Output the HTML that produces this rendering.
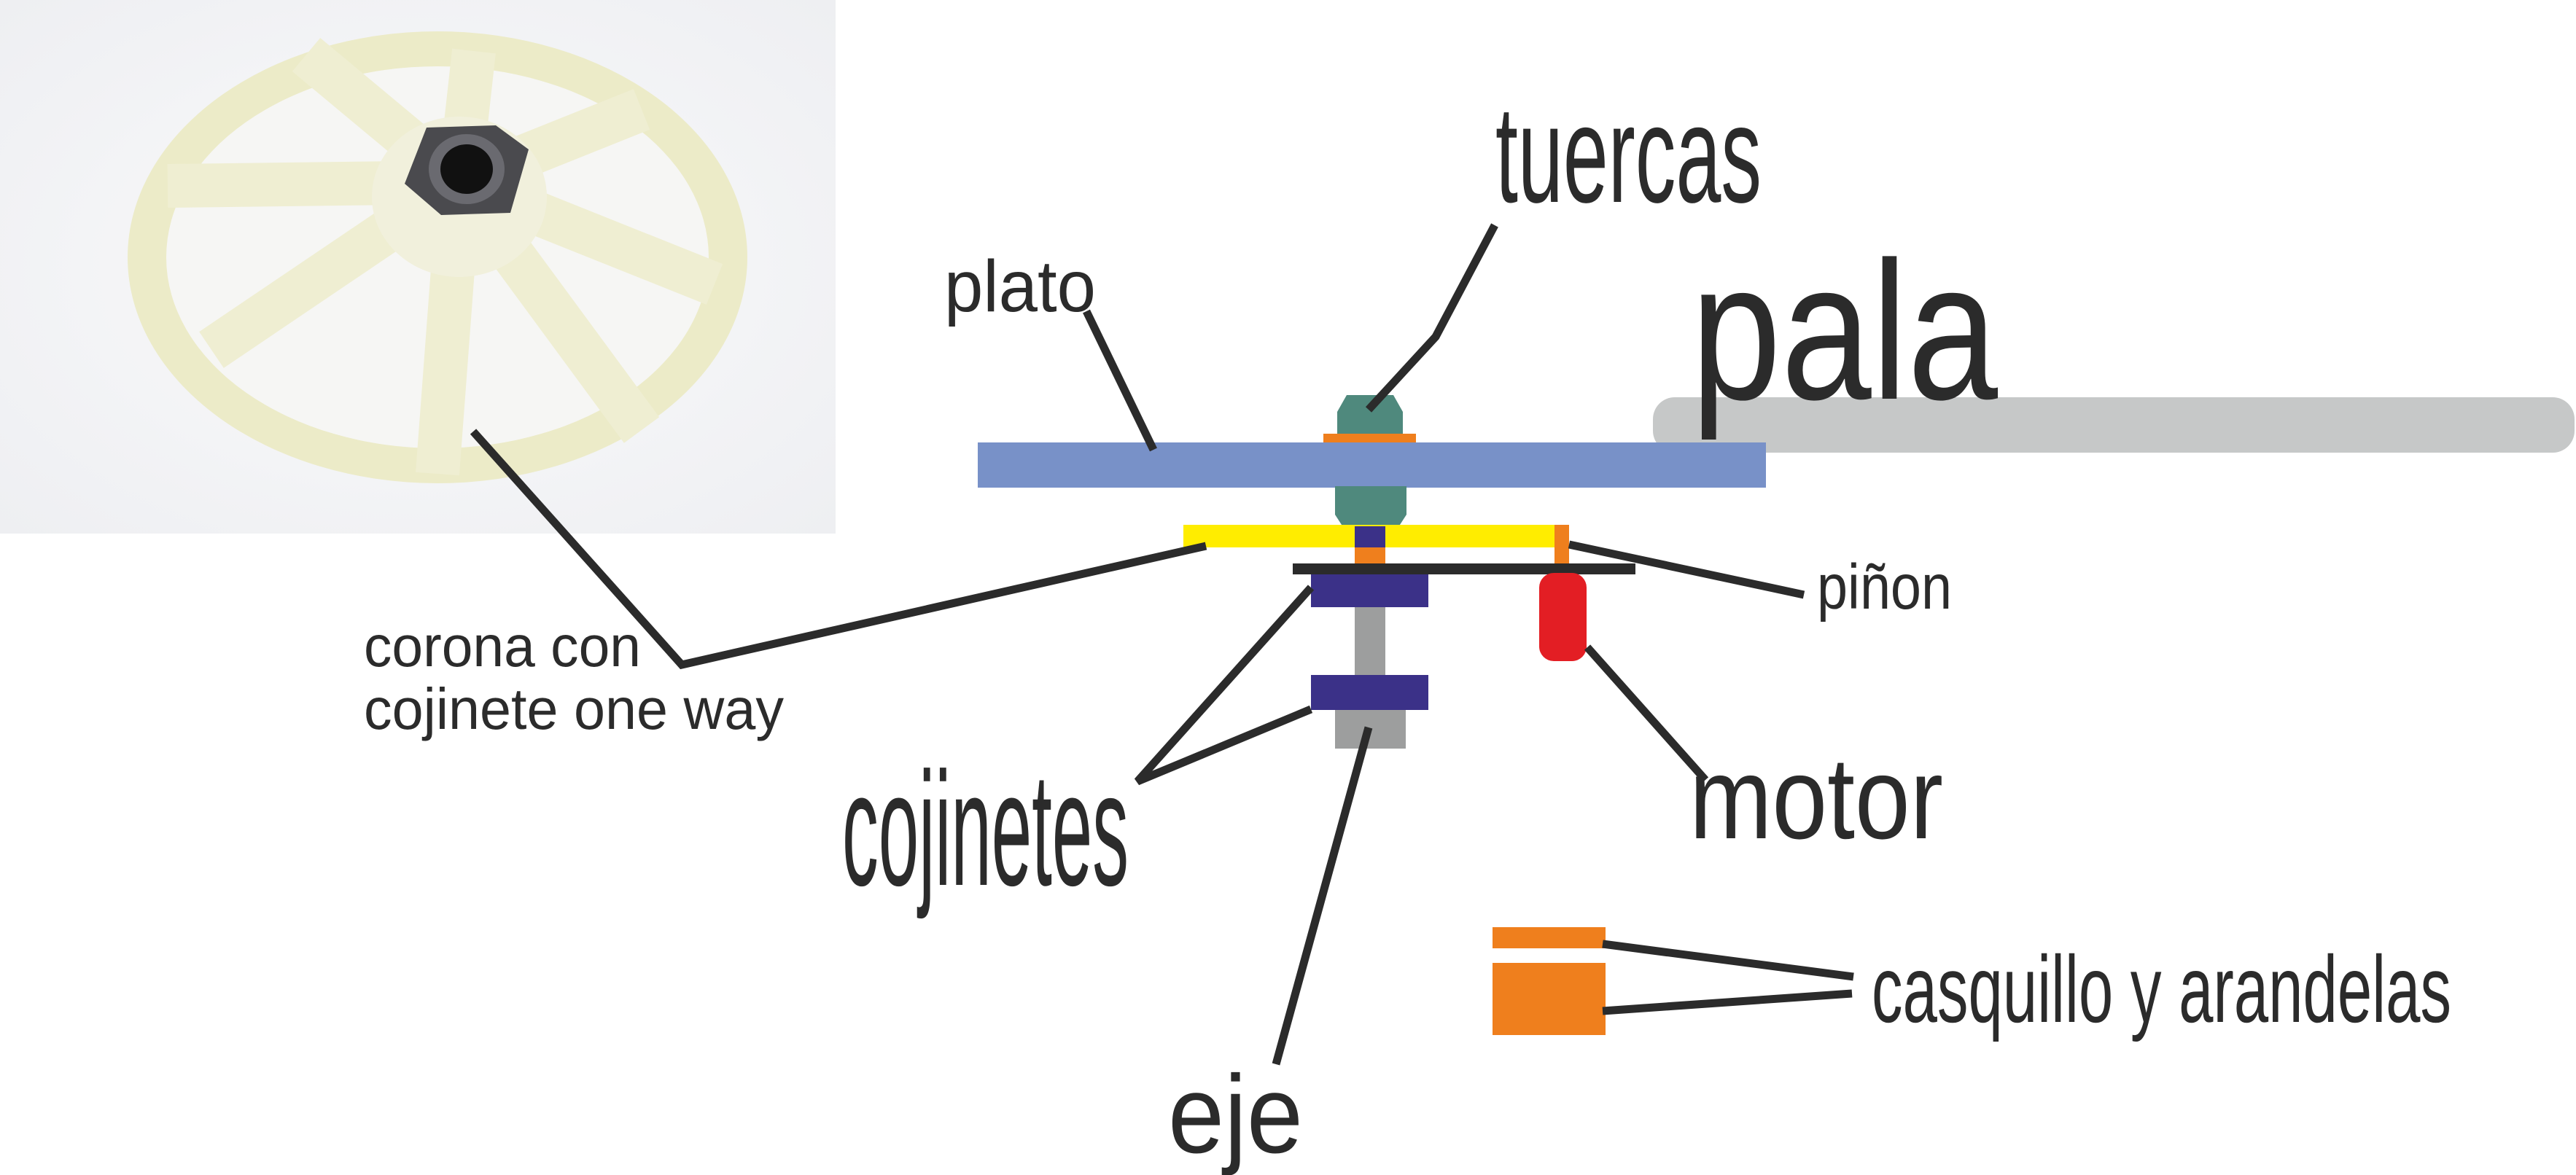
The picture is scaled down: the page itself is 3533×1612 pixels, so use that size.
<!DOCTYPE html>
<html><head><meta charset="utf-8"><style>
html,body{margin:0;padding:0;background:#fff}
svg{display:block}
text{font-family:"Liberation Sans",Arial,sans-serif;fill:#2b2b2b}
</style></head><body>
<svg width="3533" height="1612" viewBox="0 0 3533 1612" xmlns="http://www.w3.org/2000/svg">
<defs>
<radialGradient id="bg" cx="0.5" cy="0.5" r="0.7">
<stop offset="0" stop-color="#fafafb"/><stop offset="1" stop-color="#eeeff2"/>
</radialGradient>
</defs>
<!-- photo -->
<rect x="0" y="0" width="1146" height="732" fill="url(#bg)"/>
<ellipse cx="600" cy="353" rx="425" ry="310" fill="#ecebc8"/>
<ellipse cx="600" cy="353" rx="372" ry="262" fill="#f6f6f4"/>
<g stroke="#efeed2" stroke-width="60" stroke-linecap="butt">
<line x1="630" y1="250" x2="420" y2="75"/>
<line x1="630" y1="250" x2="650" y2="70"/>
<line x1="630" y1="250" x2="880" y2="150"/>
<line x1="630" y1="250" x2="980" y2="390"/>
<line x1="630" y1="250" x2="880" y2="590"/>
<line x1="630" y1="250" x2="600" y2="650"/>
<line x1="630" y1="250" x2="290" y2="480"/>
<line x1="630" y1="250" x2="230" y2="255"/>
</g>
<ellipse cx="630" cy="270" rx="120" ry="110" fill="#f1f0dc"/>
<polygon points="585,175 680,172 725,205 700,292 605,295 555,252" fill="#4a4a4e"/>
<ellipse cx="640" cy="232" rx="52" ry="48" fill="#6a6a70"/>
<ellipse cx="640" cy="232" rx="36" ry="34" fill="#111"/>
<!-- pala -->
<rect x="2267" y="545" width="1264" height="76" rx="30" fill="#c6c8c8"/>
<!-- plato -->
<rect x="1341" y="607" width="1081" height="62" fill="#7891c8"/>
<!-- nuts -->
<polygon points="1847,542 1911,542 1924,565 1924,595 1834,595 1834,565" fill="#4f897d"/>
<rect x="1815" y="595" width="127" height="12" fill="#ef7f1d"/>
<polygon points="1831,667 1929,667 1929,706 1918,723 1842,723 1831,706" fill="#4f897d"/>
<!-- yellow corona -->
<rect x="1623" y="720" width="511" height="31" fill="#ffed00"/>
<rect x="1858" y="722" width="42" height="29" fill="#3b3188"/>
<rect x="1858" y="751" width="42" height="23" fill="#ef7f1d"/>
<rect x="2132" y="720" width="20" height="56" fill="#ef7f1d"/>
<rect x="1773" y="773" width="470" height="15" fill="#2b2b2b"/>
<rect x="1798" y="788" width="161" height="45" fill="#3b3188"/>
<rect x="1858" y="833" width="42" height="93" fill="#9d9e9e"/>
<rect x="1798" y="926" width="161" height="48" fill="#3b3188"/>
<rect x="1831" y="974" width="97" height="53" fill="#9d9e9e"/>
<rect x="2111" y="786" width="65" height="121" rx="20" fill="#e31e24"/>
<!-- casquillo -->
<rect x="2047" y="1272" width="155" height="29" fill="#ef7f1d"/>
<rect x="2047" y="1321" width="155" height="99" fill="#ef7f1d"/>
<!-- connectors -->
<g stroke="#2b2b2b" stroke-width="11" fill="none" stroke-linejoin="miter">
<polyline points="1490,427 1582,617"/>
<polyline points="2050,309 1969,462 1877,562"/>
<polyline points="649,592 935,912 1654,749"/>
<polyline points="2152,747 2474,816"/>
<polyline points="2177,888 2339,1070"/>
<polyline points="1798,806 1560,1072 1798,973"/>
<polyline points="1877,998 1750,1460"/>
<polyline points="2198,1295 2542,1340"/>
<polyline points="2198,1387 2540,1363"/>
</g>
<!-- labels -->
<text x="2051" y="277" font-size="190" textLength="365" lengthAdjust="spacingAndGlyphs">tuercas</text>
<text x="2319" y="547" font-size="270" textLength="421" lengthAdjust="spacingAndGlyphs">pala</text>
<text x="1295" y="427" font-size="100" textLength="208" lengthAdjust="spacingAndGlyphs">plato</text>
<text x="2492" y="835" font-size="87" textLength="185" lengthAdjust="spacingAndGlyphs">piñon</text>
<text x="2317" y="1150" font-size="160" textLength="348" lengthAdjust="spacingAndGlyphs">motor</text>
<text x="1155" y="1214" font-size="222" textLength="393" lengthAdjust="spacingAndGlyphs">cojinetes</text>
<text x="1602" y="1581" font-size="152" textLength="185" lengthAdjust="spacingAndGlyphs">eje</text>
<text x="2567" y="1402" font-size="130" textLength="795" lengthAdjust="spacingAndGlyphs">casquillo y arandelas</text>
<text x="499" y="914" font-size="80" textLength="380" lengthAdjust="spacingAndGlyphs">corona con</text>
<text x="499" y="1000" font-size="80" textLength="576" lengthAdjust="spacingAndGlyphs">cojinete one way</text>
</svg>
</body></html>
